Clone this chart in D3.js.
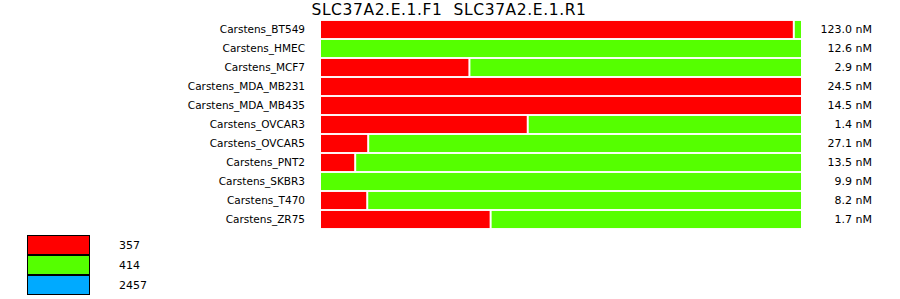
<!DOCTYPE html>
<html>
<head>
<meta charset="utf-8">
<script src="https://cdn.jsdelivr.net/npm/d3@7"></script>
<style>
  body { margin: 0; background: #fff; }
  text { font-family: "DejaVu Sans", sans-serif; fill: #000; }
</style>
</head>
<body>
<div id="chart"></div>
<script>
const title = "SLC37A2.E.1.F1  SLC37A2.E.1.R1";
const samples = ["Carstens_BT549", "Carstens_HMEC", "Carstens_MCF7", "Carstens_MDA_MB231",
  "Carstens_MDA_MB435", "Carstens_OVCAR3", "Carstens_OVCAR5", "Carstens_PNT2",
  "Carstens_SKBR3", "Carstens_T470", "Carstens_ZR75"];
// percent of reads for each isoform
const iso357 = [98.3, 0, 31, 100, 100, 43.1, 10, 7.3, 0, 9.8, 35.4];
const iso414 = [1.7, 100, 69, 0, 0, 56.9, 90, 92.7, 100, 90.2, 64.6];
const iso2457 = [0, 0, 0, 0, 0, 0, 0, 0, 0, 0, 0];
const concentrations = ["123.0 nM", "12.6 nM", "2.9 nM", "24.5 nM", "14.5 nM", "1.4 nM",
  "27.1 nM", "13.5 nM", "9.9 nM", "8.2 nM", "1.7 nM"];
const isoforms = ["357", "414", "2457"];
const colors = ["#ff0000", "#55ff00", "#00aaff"];

const width = 900, height = 299;
const svg = d3.select("#chart").append("svg")
  .attr("width", width).attr("height", height);

const x = d3.scaleLinear().domain([0, 100]).range([321, 803]);
const y = d3.scaleBand().domain(samples).range([20, 229]).paddingInner(0.1).paddingOuter(0.05);

svg.append("text")
  .attr("x", 449).attr("y", 15)
  .attr("text-anchor", "middle")
  .style("font-size", "15.5px")
  .style("letter-spacing", "0.6px")
  .style("white-space", "pre")
  .text(title);

const series = [iso357, iso414, iso2457];
samples.forEach((s, i) => {
  let cum = 0;
  series.forEach((arr, k) => {
    const v = arr[i];
    if (v > 0) {
      svg.append("rect")
        .attr("x", x(cum))
        .attr("y", y(s))
        .attr("width", Math.max(0, x(cum + v) - x(cum) - 2))
        .attr("height", y.bandwidth())
        .attr("fill", colors[k]);
    }
    cum += v;
  });
});

svg.selectAll(".lab").data(samples).enter().append("text")
  .attr("x", 305)
  .attr("y", d => y(d) + y.bandwidth() / 2)
  .attr("dy", "0.35em")
  .attr("text-anchor", "end")
  .style("font-size", "10.5px")
  .text(d => d);

svg.selectAll(".conc").data(concentrations).enter().append("text")
  .attr("x", 872)
  .attr("y", (d, i) => y(samples[i]) + y.bandwidth() / 2)
  .attr("dy", "0.35em")
  .attr("text-anchor", "end")
  .style("font-size", "11px")
  .text(d => d);

const ly = d3.scaleBand().domain(isoforms).range([235, 295]);
isoforms.forEach((d, i) => {
  svg.append("rect")
    .attr("x", 27.5).attr("y", ly(d) + 0.5)
    .attr("width", 62).attr("height", ly.bandwidth() - 1)
    .attr("fill", colors[i]).attr("stroke", "#000").attr("stroke-width", 1);
  svg.append("text")
    .attr("x", 119).attr("y", ly(d) + ly.bandwidth() / 2)
    .attr("dy", "0.35em")
    .style("font-size", "11px")
    .text(d);
});
</script>
</body>
</html>
